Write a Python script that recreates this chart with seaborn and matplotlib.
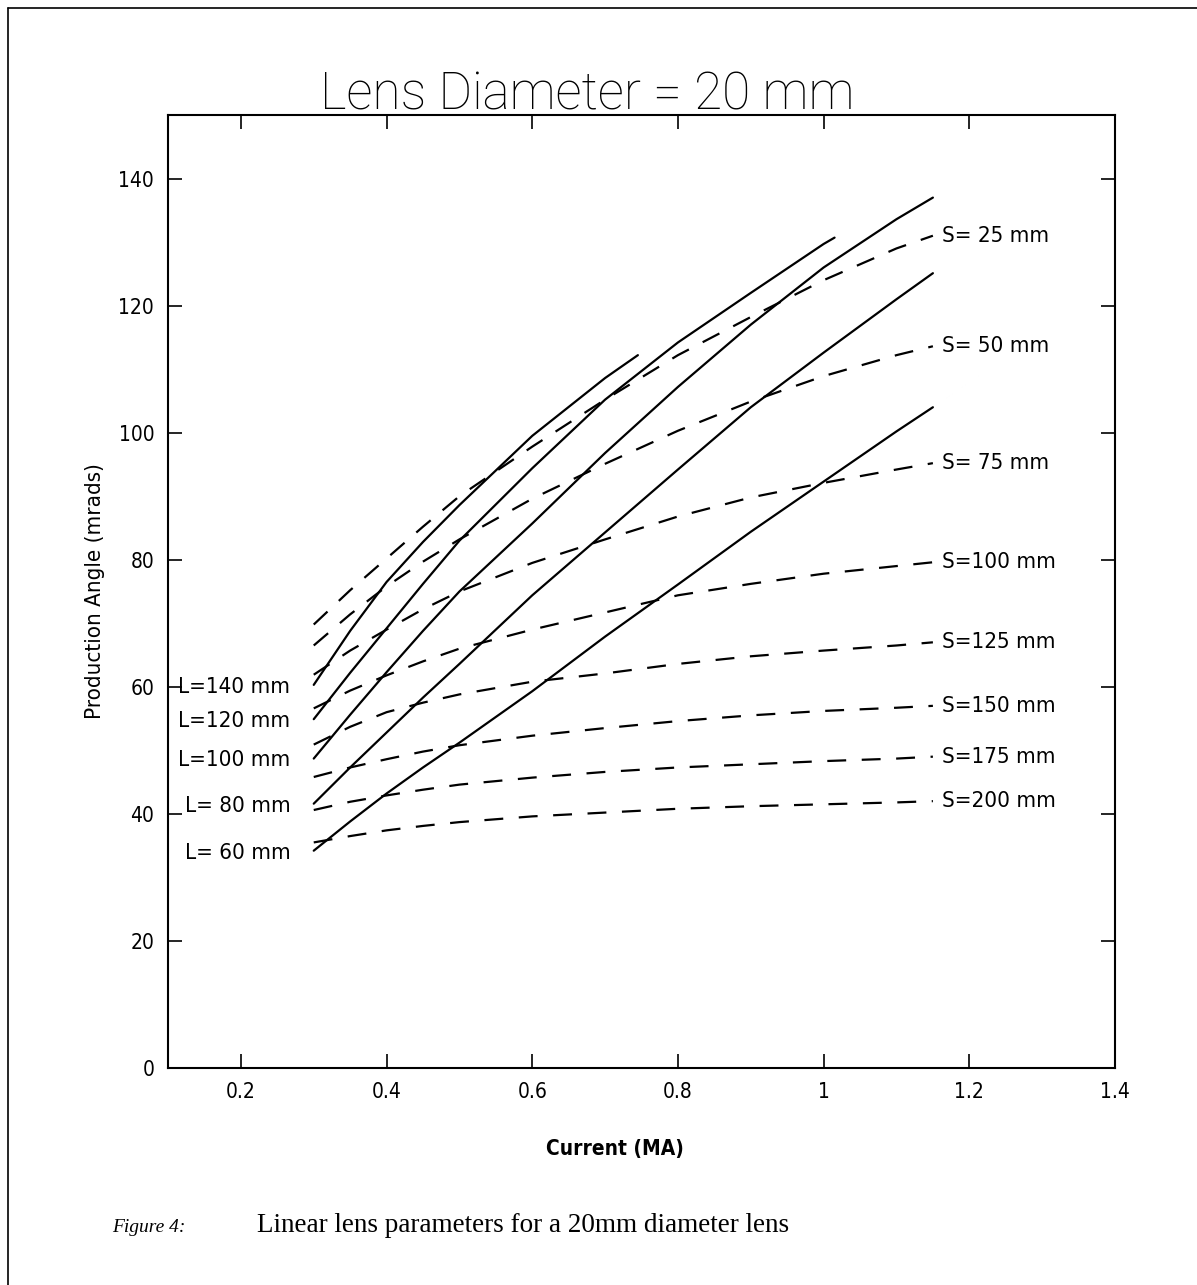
import numpy as np
import pandas as pd
import matplotlib
matplotlib.use("Agg")
import matplotlib.pyplot as plt
from matplotlib.lines import Line2D
import seaborn as sns

# Данные
x_grid = [0.3, 0.35, 0.4, 0.45, 0.5, 0.6, 0.7, 0.8, 0.9, 1.0, 1.1, 1.15]

# сплошные линии (L = длина линзы)
L_names = ["L=140 mm", "L=120 mm", "L=100 mm", "L= 80 mm", "L= 60 mm"]
L140_x = [0.3, 0.35, 0.4, 0.45, 0.5, 0.6, 0.7, 0.745]
L140_y = [60.3, 68.8, 76.5, 82.8, 88.6, 99.5, 108.6, 112.2]
L120_x = [0.3, 0.35, 0.4, 0.45, 0.5, 0.6, 0.7, 0.8, 0.9, 1.0, 1.015]
L120_y = [54.9, 62.2, 69.2, 76.2, 83.0, 94.4, 105.2, 114.2, 122.0, 129.7, 130.7]
L100_y = [48.7, 55.6, 62.3, 68.8, 75.0, 85.7, 96.8, 107.2, 117.0, 126.0, 133.6, 137.0]
L80_y = [41.6, 47.3, 52.8, 58.3, 63.6, 74.4, 84.3, 94.2, 104.0, 112.6, 121.0, 125.1]
L60_y = [34.2, 38.8, 43.2, 47.3, 51.2, 59.3, 67.9, 76.1, 84.4, 92.3, 100.2, 104.0]

# штриховые линии (S)
S_names = ["S= 25 mm", "S= 50 mm", "S= 75 mm", "S=100 mm",
           "S=125 mm", "S=150 mm", "S=175 mm", "S=200 mm"]
S25_y = [69.8, 75.2, 80.2, 85.2, 90.0, 97.8, 105.2, 112.2, 118.2, 124.0, 129.0, 131.0]
S50_y = [66.5, 71.4, 75.8, 79.7, 83.2, 89.6, 95.1, 100.3, 104.9, 108.9, 112.2, 113.6]
S75_y = [61.9, 65.7, 69.0, 72.2, 75.0, 79.5, 83.2, 86.8, 89.8, 92.1, 94.2, 95.2]
S100_y = [56.6, 59.4, 61.8, 64.0, 66.0, 69.0, 71.7, 74.4, 76.2, 77.8, 79.0, 79.6]
S125_y = [50.9, 53.7, 56.0, 57.5, 58.8, 60.8, 62.1, 63.6, 64.8, 65.7, 66.5, 67.0]
S150_y = [45.8, 47.3, 48.6, 49.8, 50.8, 52.3, 53.5, 54.6, 55.5, 56.2, 56.7, 57.0]
S175_y = [40.6, 41.9, 42.9, 43.8, 44.6, 45.7, 46.6, 47.3, 47.8, 48.3, 48.7, 49.0]
S200_y = [35.5, 36.5, 37.4, 38.1, 38.7, 39.6, 40.2, 40.8, 41.2, 41.5, 41.8, 42.0]

x_ticks = [0.2, 0.4, 0.6, 0.8, 1.0, 1.2, 1.4]
x_tick_labels = ["0.2", "0.4", "0.6", "0.8", "1", "1.2", "1.4"]
y_ticks = [0, 20, 40, 60, 80, 100, 120, 140]

L_series = [(L140_x, L140_y), (L120_x, L120_y), (x_grid, L100_y),
            (x_grid, L80_y), (x_grid, L60_y)]
S_series = [S25_y, S50_y, S75_y, S100_y, S125_y, S150_y, S175_y, S200_y]

sns.set_style("ticks")
plt.rcParams["font.family"] = ["DejaVu Sans"]
plt.rcParams["font.stretch"] = "condensed"
for key in ["text.color", "axes.labelcolor", "xtick.color", "ytick.color",
            "axes.edgecolor"]:
    plt.rcParams[key] = "black"

fig = plt.figure(figsize=(11.97, 12.85), dpi=100)
ax = fig.add_axes([0.1404, 0.1689, 0.7911, 0.7416])

for (xs, ys) in L_series:
    sns.lineplot(x=xs, y=ys, ax=ax, color="black", lw=1.6, sort=False,
                 estimator=None)
for ys in S_series:
    sns.lineplot(x=x_grid, y=ys, ax=ax, color="black", lw=1.6, sort=False,
                 estimator=None, linestyle=(0, (8.5, 7)))

# подписи L слева
for name, (xs, ys) in zip(L_names, L_series):
    ax.text(0.268, ys[0] - 0.3, name, ha="right", va="center", fontsize=16)
# подписи S справа
for name, ys in zip(S_names, S_series):
    ax.text(1.163, ys[-1], name, ha="left", va="center", fontsize=16)

ax.set_xlim(0.1, 1.4)
ax.set_ylim(0, 150)
ax.set_xticks(x_ticks)
ax.set_xticklabels(x_tick_labels)
ax.set_yticks(y_ticks)
ax.tick_params(direction="in", length=10, width=1.2, labelsize=15,
               top=True, right=True, pad=10)
for sp in ax.spines.values():
    sp.set_linewidth(1.5)
    sp.set_visible(True)

ax.set_xlabel("Current (MA)", fontsize=15, fontweight="bold")
ax.xaxis.set_label_coords(0.472, -0.075)
ax.set_ylabel("Production Angle (mrads)", fontsize=16)
ax.yaxis.set_label_coords(-0.067, 0.5)

fig.text(0.491, 0.906, "Lens Diameter = 20 mm", ha="center", va="bottom",
         family=["Roboto"], fontweight="light", fontstretch="normal",
         fontsize=37)

fig.text(0.094, 0.041, "Figure 4:", family=["Liberation Serif"],
         fontstretch="normal", style="italic", fontsize=14, va="baseline")
fig.text(0.215, 0.041, "Linear lens parameters for a 20mm diameter lens",
         family=["Liberation Serif"], fontstretch="normal", fontsize=19.5,
         va="baseline")

# рамка вокруг рисунка
fig.add_artist(Line2D([0.007, 0.007], [0.0, 0.994], color="black", lw=1.2,
                      transform=fig.transFigure))
fig.add_artist(Line2D([0.007, 1.0], [0.994, 0.994], color="black", lw=1.2,
                      transform=fig.transFigure))

fig.savefig("out.png", dpi=100, facecolor="white")
